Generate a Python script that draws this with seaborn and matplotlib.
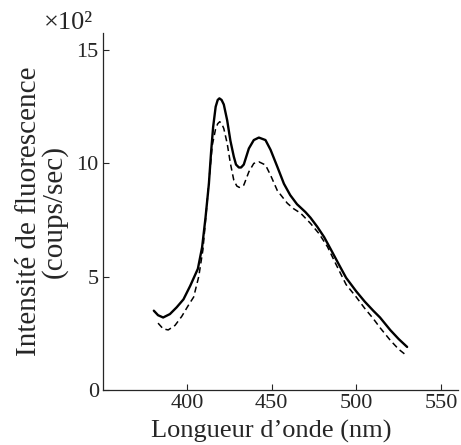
import numpy as np
import pandas as pd
import seaborn as sns
import matplotlib.pyplot as plt

# solid curve, intensity in 10^2 counts/s
wl_solid = [380.5, 383, 386, 390, 394, 398, 402, 406.5, 409, 411, 413, 414.3, 415.5,
            417, 418.2, 419.2, 420.5, 421.8, 423.8, 425.7, 427.7, 429, 430.7, 432,
            433.6, 436.6, 439.5, 442.5, 446.4, 449.4, 453.4, 457.3, 461, 465, 470,
            473, 477, 481, 485, 490, 494, 500, 505, 510, 514, 520, 525, 530]
int_solid = [3.5, 3.3, 3.2, 3.35, 3.65, 4.0, 4.6, 5.35, 6.3, 7.6, 9.1, 10.5, 11.6,
             12.5, 12.8, 12.87, 12.8, 12.6, 11.9, 11.0, 10.3, 9.95, 9.82, 9.82,
             9.95, 10.66, 11.03, 11.14, 11.03, 10.6, 9.85, 9.1, 8.6, 8.2, 7.85,
             7.6, 7.2, 6.75, 6.2, 5.5, 4.95, 4.35, 3.9, 3.5, 3.2, 2.65, 2.25, 1.9]

# dashed curve
wl_dash = [383, 386, 389, 393, 397, 401, 404, 407, 409.5, 411.5, 413.5, 415, 416.9,
           418.2, 419.4, 420.6, 421.8, 423.8, 425.7, 427.7, 429.5, 431, 433.6,
           436.6, 439.5, 442.5, 446.4, 449.4, 453.4, 459.3, 463, 467.2, 473, 478,
           483, 488, 494, 500, 505, 510, 514, 520, 525, 530]
int_dash = [2.95, 2.7, 2.65, 2.85, 3.25, 3.75, 4.1, 5.0, 6.2, 7.9, 9.6, 10.8, 11.5,
            11.75, 11.84, 11.75, 11.54, 10.88, 10.0, 9.26, 9.0, 8.94, 9.04,
            9.63, 10.0, 10.07, 9.93, 9.48, 8.8, 8.24, 8.0, 7.8, 7.35, 6.9,
            6.32, 5.55, 4.65, 4.1, 3.6, 3.15, 2.75, 2.2, 1.8, 1.5]

xticks = [400, 450, 500, 550]
yticks = [0, 5, 10, 15]

sns.set_style('ticks')
plt.rcParams['font.family'] = ['Liberation Serif', 'DejaVu Serif']

fig = plt.figure(figsize=(4.61, 4.45), dpi=100)
ax = fig.add_axes([0.2234, 0.1236, 0.77, 0.802])

sns.lineplot(x=wl_solid, y=int_solid, color='black', linewidth=1.7, sort=False, ax=ax)
sns.lineplot(x=wl_dash, y=int_dash, color='black', linewidth=1.1, sort=False,
             linestyle=(0, (4, 2.5)), ax=ax)

ax.set_xlim(350.5, 560)
ax.set_ylim(0, 15.75)
ax.set_xticks(xticks)
ax.set_yticks(yticks)
ax.tick_params(direction='in', length=4, width=0.8, labelsize=16, pad=3)
for s in ['top', 'right']:
    ax.spines[s].set_visible(False)
for s in ['left', 'bottom']:
    ax.spines[s].set_linewidth(0.9)

ax.set_xlabel("Longueur d\u2019onde (nm)", fontsize=19)
ax.xaxis.set_label_coords(0.475, -0.083)
ax.set_ylabel("Intensit\u00e9 de fluorescence\n(coups/sec)", fontsize=21, labelpad=6,
              linespacing=0.95)
fig.text(0.095, 0.948, "\u00d710\u00b2", fontsize=19, ha='left', va='center')

fig.savefig('out.png', dpi=100)
